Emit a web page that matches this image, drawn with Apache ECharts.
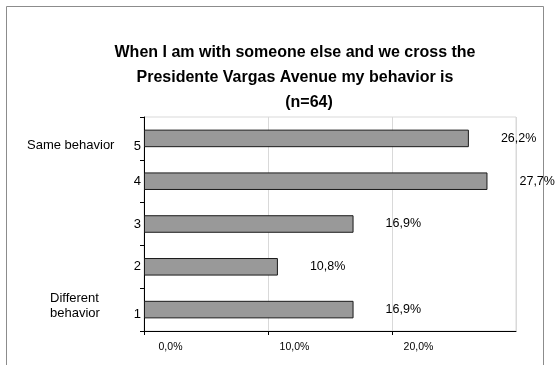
<!DOCTYPE html>
<html>
<head>
<meta charset="utf-8">
<script src="https://cdn.jsdelivr.net/npm/echarts@6/dist/echarts.min.js"></script>
<style>
  html, body { margin: 0; padding: 0; background: #fff; }
  #chart { width: 555px; height: 365px; }
</style>
</head>
<body>
<div id="chart"></div>
<script>
// Answer scale, bottom (1) to top (5)
const categories = ['1', '2', '3', '4', '5'];
// Share of respondents per answer, in percent
const shares = [16.9, 10.8, 16.9, 27.7, 26.2];
// Percent axis ticks
const xTicks = [0, 10, 20, 30];

const titleLines = ['When I am with someone else and we cross the', 'Presidente Vargas Avenue my behavior is'];
const sampleText = '(n=64)';
const topCaption = 'Same behavior';
const bottomCaption = 'Different\nbehavior';

const FONT = '"Liberation Sans", Arial, sans-serif';
const fmtPct = v => v.toFixed(1).replace('.', ',') + '%';

const chart = echarts.init(document.getElementById('chart'), null, { renderer: 'canvas' });

chart.setOption({
  backgroundColor: '#ffffff',
  animation: false,
  textStyle: { fontFamily: FONT },
  title: [
    {
      text: titleLines.join('\n'),
      left: 290, top: 35, textAlign: 'center',
      textStyle: { fontFamily: FONT, fontSize: 16, fontWeight: 'bold', color: '#000', lineHeight: 25 }
    },
    {
      text: sampleText,
      left: 304, top: 85, textAlign: 'center',
      textStyle: { fontFamily: FONT, fontSize: 16, fontWeight: 'bold', color: '#000', lineHeight: 25 }
    }
  ],
  graphic: [
    {
      type: 'rect', silent: true, z: -1,
      shape: { x: 6.5, y: 6.5, width: 537, height: 362 },
      style: { fill: 'none', stroke: '#8c8c8c', lineWidth: 1 }
    },
    {
      type: 'text', left: 27, top: 139,
      style: { text: topCaption, font: '13px ' + FONT, fill: '#000' }
    },
    {
      type: 'text', left: 50, top: 291,
      style: { text: bottomCaption, font: '13px ' + FONT, fill: '#000', align: 'center', lineHeight: 15, width: 50 }
    }
  ],
  grid: {
    left: 144, top: 117, right: 39, bottom: 34,
    show: true, borderColor: '#d9d9d9', borderWidth: 1, containLabel: false
  },
  xAxis: {
    type: 'value',
    min: xTicks[0], max: xTicks[xTicks.length - 1], interval: 10,
    axisLine: { show: true, lineStyle: { color: '#000', width: 1 } },
    axisTick: { show: true, length: 4, lineStyle: { color: '#000' } },
    splitLine: { show: true, lineStyle: { color: '#d9d9d9', width: 1 } },
    axisLabel: {
      fontFamily: FONT, fontSize: 10.5, color: '#000', margin: 11,
      padding: [0, 0, 0, 53],
      showMaxLabel: false,
      formatter: v => (v === 30 ? '' : fmtPct(v))
    }
  },
  yAxis: {
    type: 'category',
    data: categories,
    axisLine: { show: true, lineStyle: { color: '#000', width: 1 } },
    axisTick: { show: true, length: 4, lineStyle: { color: '#000' } },
    splitLine: { show: false },
    axisLabel: {
      fontFamily: FONT, fontSize: 13, color: '#000', margin: 3,
      formatter: v => (v === '5' ? '{lo|5}' : v === '1' ? '{mid|1}' : v),
      rich: {
        lo: { fontFamily: FONT, fontSize: 13, color: '#000', padding: [16, 0, 0, 0] },
        mid: { fontFamily: FONT, fontSize: 13, color: '#000', padding: [10, 0, 0, 0] }
      }
    }
  },
  series: [{
    type: 'bar',
    data: shares,
    barCategoryGap: '59%',
    itemStyle: { color: '#999999', borderColor: '#1a1a1a', borderWidth: 1 },
    label: {
      show: true, position: 'right', distance: 32,
      fontFamily: FONT, fontSize: 12.5, color: '#000',
      formatter: p => fmtPct(p.value)
    }
  }]
});
</script>
</body>
</html>
